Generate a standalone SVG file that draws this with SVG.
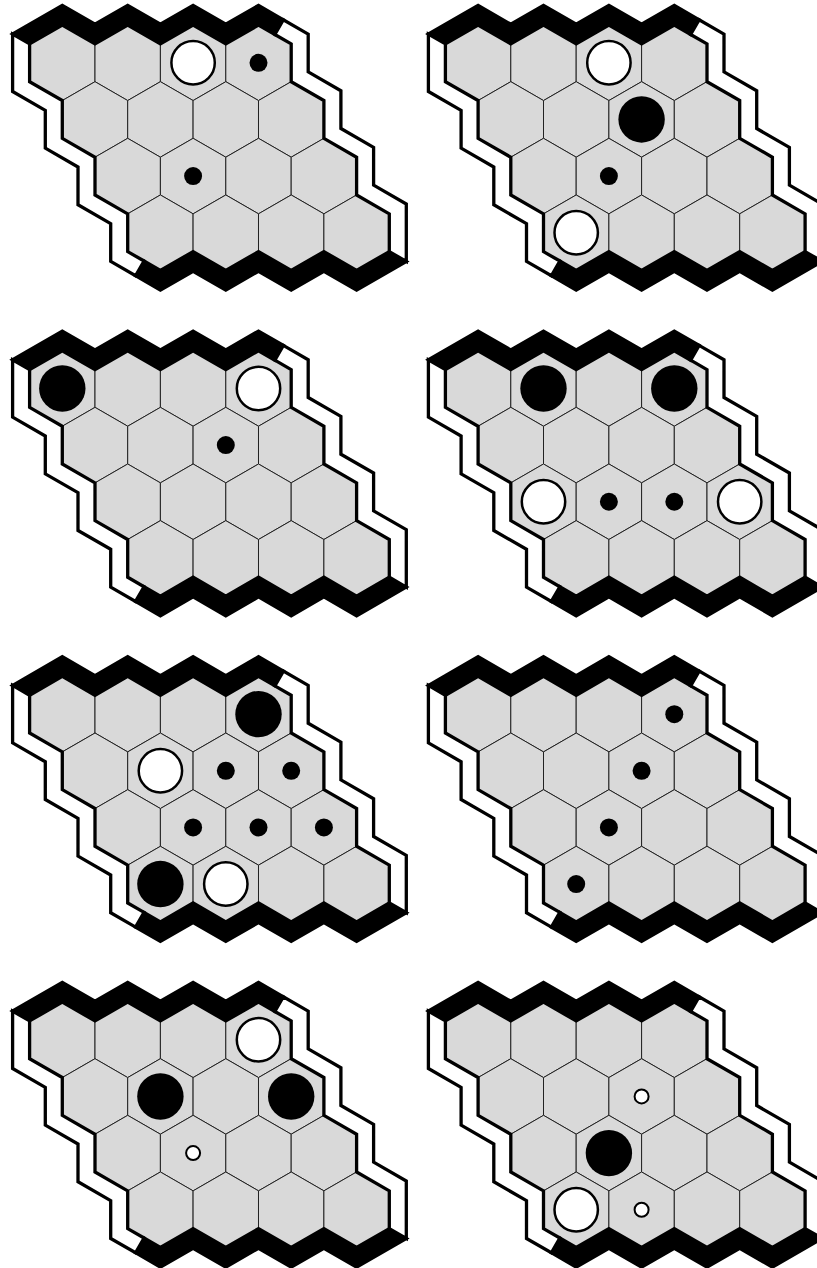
<svg xmlns="http://www.w3.org/2000/svg" xmlns:xlink="http://www.w3.org/1999/xlink" width="817" height="1268" viewBox="0 0 817 1268">
<style>
.hx{fill:#d9d9d9;stroke:#222;stroke-width:1}
.bk{fill:#000;stroke:#000;stroke-width:3.3;stroke-linejoin:miter}
.wt{fill:#fff;stroke:#000;stroke-width:3.3;stroke-linejoin:miter}
.ws{fill:#fff;stroke:#000;stroke-width:2.5}
.bs{fill:#000}
.dt{fill:#000}
.sw{fill:#fff;stroke:#000;stroke-width:2}
</style>
<defs>
<polygon id="hex" class="hx" points="0,-37.76 32.7,-18.88 32.7,18.88 0,37.76 -32.7,18.88 -32.7,-18.88"/>
<g id="frame">
<use href="#hex" x="0" y="0"/><use href="#hex" x="65.4" y="0"/><use href="#hex" x="130.8" y="0"/><use href="#hex" x="196.2" y="0"/>
<use href="#hex" x="32.7" y="56.64"/><use href="#hex" x="98.1" y="56.64"/><use href="#hex" x="163.5" y="56.64"/><use href="#hex" x="228.9" y="56.64"/>
<use href="#hex" x="65.4" y="113.28"/><use href="#hex" x="130.8" y="113.28"/><use href="#hex" x="196.2" y="113.28"/><use href="#hex" x="261.6" y="113.28"/>
<use href="#hex" x="98.1" y="169.92"/><use href="#hex" x="163.5" y="169.92"/><use href="#hex" x="228.9" y="169.92"/><use href="#hex" x="294.3" y="169.92"/>
<polygon class="bk" points="-32.7,-18.88 0,-37.76 32.7,-18.88 65.4,-37.76 98.1,-18.88 130.8,-37.76 163.5,-18.88 196.2,-37.76 212.55,-28.32 221.05,-43.04 196.2,-57.39 163.5,-38.51 130.8,-57.39 98.1,-38.51 65.4,-57.39 32.7,-38.51 0,-57.39 -49.7,-28.7"/>
<polygon class="bk" points="327,188.8 294.3,207.68 261.6,188.8 228.9,207.68 196.2,188.8 163.5,207.68 130.8,188.8 98.1,207.68 81.75,198.24 73.25,212.96 98.1,227.31 130.8,208.43 163.5,227.31 196.2,208.43 228.9,227.31 261.6,208.43 294.3,227.31 344,198.62"/>
<polygon class="wt" points="212.55,-28.32 228.9,-18.88 228.9,18.88 261.6,37.76 261.6,75.52 294.3,94.4 294.3,132.16 327,151.04 327,188.8 344,198.62 344,141.225 311.3,122.345 311.3,84.585 278.6,65.705 278.6,27.945 245.9,9.065 245.9,-28.7 221.05,-43.04"/>
<polygon class="wt" points="81.75,198.24 65.4,188.8 65.4,151.04 32.7,132.16 32.7,94.4 0,75.52 0,37.76 -32.7,18.88 -32.7,-18.88 -49.7,-28.7 -49.7,28.695 -17,47.575 -17,85.335 15.7,104.215 15.7,141.975 48.4,160.855 48.4,198.62 73.25,212.96"/>
</g>
</defs>
<g id="board1" transform="translate(62.3,62.8)">
<use href="#frame"/>
<circle class="ws" cx="130.8" cy="0" r="21.7"/>
<circle class="dt" cx="196.2" cy="0" r="9"/>
<circle class="dt" cx="130.8" cy="113.28" r="9"/>
</g>
<g id="board2" transform="translate(478.1,62.8)">
<use href="#frame"/>
<circle class="ws" cx="130.8" cy="0" r="21.7"/>
<circle class="bs" cx="163.5" cy="56.64" r="23.2"/>
<circle class="dt" cx="130.8" cy="113.28" r="9"/>
<circle class="ws" cx="98.1" cy="169.92" r="21.7"/>
</g>
<g id="board3" transform="translate(62.3,388.47)">
<use href="#frame"/>
<circle class="bs" cx="0" cy="0" r="23.2"/>
<circle class="ws" cx="196.2" cy="0" r="21.7"/>
<circle class="dt" cx="163.5" cy="56.64" r="9"/>
</g>
<g id="board4" transform="translate(478.1,388.47)">
<use href="#frame"/>
<circle class="bs" cx="65.4" cy="0" r="23.2"/>
<circle class="bs" cx="196.2" cy="0" r="23.2"/>
<circle class="ws" cx="65.4" cy="113.28" r="21.7"/>
<circle class="dt" cx="130.8" cy="113.28" r="9"/>
<circle class="dt" cx="196.2" cy="113.28" r="9"/>
<circle class="ws" cx="261.6" cy="113.28" r="21.7"/>
</g>
<g id="board5" transform="translate(62.3,714.14)">
<use href="#frame"/>
<circle class="bs" cx="196.2" cy="0" r="23.2"/>
<circle class="ws" cx="98.1" cy="56.64" r="21.7"/>
<circle class="dt" cx="163.5" cy="56.64" r="9"/>
<circle class="dt" cx="228.9" cy="56.64" r="9"/>
<circle class="dt" cx="130.8" cy="113.28" r="9"/>
<circle class="dt" cx="196.2" cy="113.28" r="9"/>
<circle class="dt" cx="261.6" cy="113.28" r="9"/>
<circle class="bs" cx="98.1" cy="169.92" r="23.2"/>
<circle class="ws" cx="163.5" cy="169.92" r="21.7"/>
</g>
<g id="board6" transform="translate(478.1,714.14)">
<use href="#frame"/>
<circle class="dt" cx="196.2" cy="0" r="9"/>
<circle class="dt" cx="163.5" cy="56.64" r="9"/>
<circle class="dt" cx="130.8" cy="113.28" r="9"/>
<circle class="dt" cx="98.1" cy="169.92" r="9"/>
</g>
<g id="board7" transform="translate(62.3,1039.81)">
<use href="#frame"/>
<circle class="ws" cx="196.2" cy="0" r="21.7"/>
<circle class="bs" cx="98.1" cy="56.64" r="23.2"/>
<circle class="bs" cx="228.9" cy="56.64" r="23.2"/>
<circle class="sw" cx="130.8" cy="113.28" r="7"/>
</g>
<g id="board8" transform="translate(478.1,1039.81)">
<use href="#frame"/>
<circle class="sw" cx="163.5" cy="56.64" r="7"/>
<circle class="bs" cx="130.8" cy="113.28" r="23.2"/>
<circle class="ws" cx="98.1" cy="169.92" r="21.7"/>
<circle class="sw" cx="163.5" cy="169.92" r="7"/>
</g>
</svg>
